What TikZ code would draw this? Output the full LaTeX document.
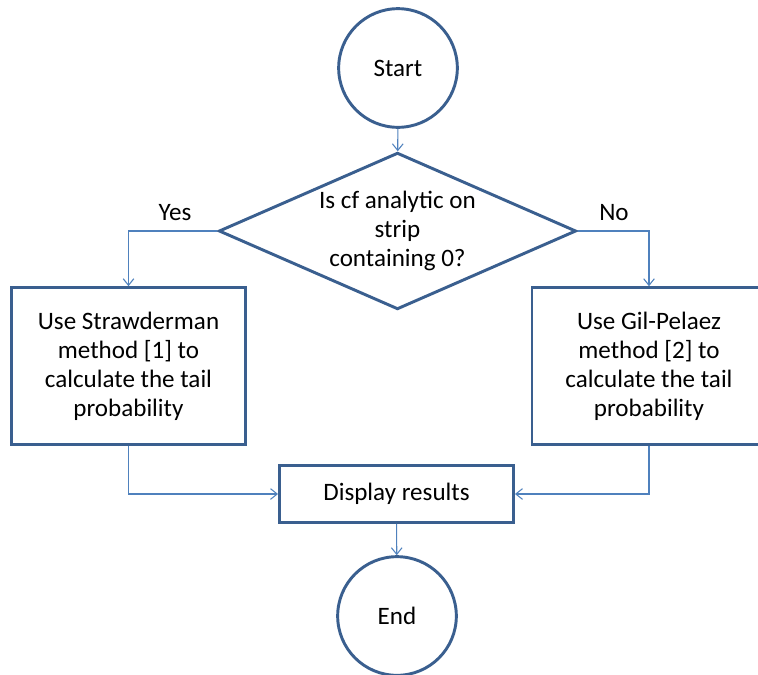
\documentclass[tikz,border=0pt]{standalone}
\usepackage{fontspec}
\setmainfont{Carlito}
\usetikzlibrary{shapes.geometric,arrows.meta}
\definecolor{shapeblue}{HTML}{3A5F8F}
\definecolor{linkblue}{HTML}{4F81BD}
\begin{document}
\begin{tikzpicture}[x=0.75pt,y=-0.75pt,
  shapebox/.style={draw=shapeblue,line width=2.2pt,fill=white,align=center,inner sep=0pt,font=\fontsize{18.8}{21.75}\selectfont},
  terminal/.style={shapebox,circle,minimum size=89pt},
  decision/.style={shapebox,diamond,shape aspect=2.27,minimum width=268pt,minimum height=117.5pt},
  process/.style={shapebox,rectangle},
  link/.style={draw=linkblue,line width=0.8pt,-{Straight Barb[length=5pt,width=8pt]}},
  lbl/.style={font=\fontsize{18.8}{21.75}\selectfont}]
\useasboundingbox (0,0) rectangle (758,675);
\node[terminal] (start) at (398,68) {Start};
\node[decision] (dec) at (397.5,231) {Is cf analytic on\\strip\\containing 0?};
\node[process,minimum width=175.5pt,minimum height=117.5pt] (left) at (128.5,366) {Use Strawderman\\method [1] to\\calculate the tail\\probability};
\node[process,minimum width=175.5pt,minimum height=117.5pt] (right) at (649,366) {Use Gil-Pelaez\\method [2] to\\calculate the tail\\probability};
\node[process,minimum width=175.5pt,minimum height=42.5pt] (disp) at (396.5,494) {Display results};
\node[terminal] (end) at (397,616) {End};
\node[lbl] (yes) at (175,213) {Yes};
\node[lbl] (no) at (614,213) {No};
\draw[link] (start) -- (dec);
\draw[link] (dec.west) -| (left.north);
\draw[link] (dec.east) -| (right.north);
\draw[link] (left.south) |- (disp.west);
\draw[link] (right.south) |- (disp.east);
\draw[link] (disp) -- (end);
\end{tikzpicture}
\end{document}
